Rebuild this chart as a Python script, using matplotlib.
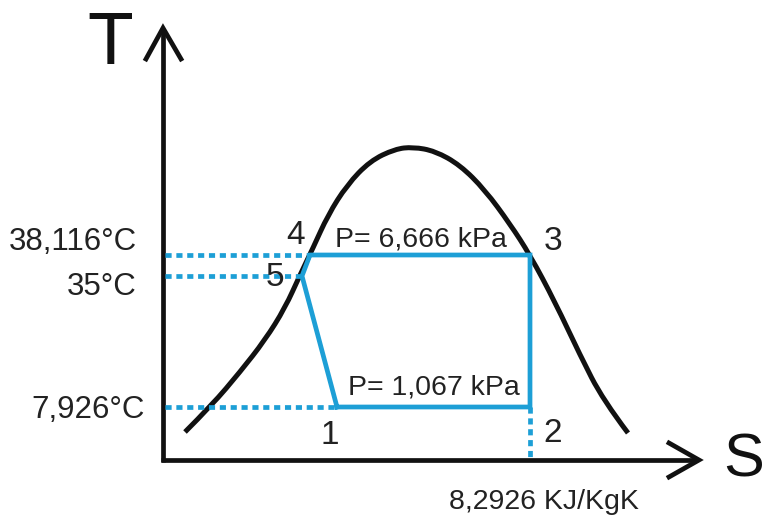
import matplotlib.pyplot as plt
import numpy as np
from matplotlib.path import Path
from matplotlib.patches import PathPatch

plt.rcParams['font.family'] = ['Liberation Sans', 'DejaVu Sans']

# saturation dome (s, T in picture units)
dome_s = [185, 212, 240, 265, 285, 300, 313, 328, 347, 370, 395, 413, 435, 460, 485, 510, 530, 555, 580, 603, 628]
dome_T = [432, 405, 372, 340, 308, 275, 248, 215, 185, 161, 149, 147, 151, 165, 190, 224, 255, 302, 355, 400, 433]

# cycle states 1..5
state_names = ['1', '2', '3', '4', '5']
state_s = [337, 530, 530, 310, 302]
state_T = [407, 407, 255, 255, 276]

temp_labels = ['38,116°C', '35°C', '7,926°C']
temp_levels = [255, 276, 407]
temp_ends = [310, 302, 337]

entropy_label = '8,2926 KJ/KgK'
entropy_value = 530
p_high = 'P= 6,666 kPa'
p_low = 'P= 1,067 kPa'

blue = '#1d9fd6'
ink = '#111111'
origin_x, origin_y = 163, 460
x_tip, y_tip = 699, 28

fig = plt.figure(figsize=(7.64, 5.22), dpi=100)
ax = fig.add_axes([0, 0, 1, 1])
ax.set_xlim(0, 764)
ax.set_ylim(522, 0)
ax.axis('off')

# axes with chevron arrowheads
ax.plot([origin_x, origin_x], [origin_y + 2, y_tip + 2], color=ink, lw=3.4, solid_capstyle='butt')
ax.plot([origin_x - 2, x_tip - 2], [origin_y, origin_y], color=ink, lw=3.4, solid_capstyle='butt')
ax.plot([origin_x - 17, origin_x, origin_x + 18], [y_tip + 31, y_tip, y_tip + 31],
        color=ink, lw=3.4, solid_joinstyle='miter')
ax.plot([x_tip - 30, x_tip, x_tip - 30], [origin_y - 17, origin_y, origin_y + 17],
        color=ink, lw=3.4, solid_joinstyle='miter')
ax.text(110, 44, 'T', fontsize=54, ha='center', va='center', color=ink)
ax.text(744, 461, 'S', fontsize=44, ha='center', va='center', color=ink)

# dome as a smooth quadratic b-spline through the read points
pts = np.column_stack([dome_s, dome_T]).astype(float)
verts = [pts[0]]
codes = [Path.MOVETO]
for i in range(1, len(pts) - 2):
    verts += [pts[i], (pts[i] + pts[i + 1]) / 2]
    codes += [Path.CURVE3, Path.CURVE3]
verts += [pts[-2], pts[-1]]
codes += [Path.CURVE3, Path.CURVE3]
ax.add_patch(PathPatch(Path(verts, codes), fill=False, lw=3.6, edgecolor=ink, capstyle='butt'))

# dotted guide lines
dots = (0, (1.3, 1.0))
for lvl, end in zip(temp_levels, temp_ends):
    ax.plot([origin_x + 2, end], [lvl, lvl], color=blue, lw=3.4, ls=dots, dash_capstyle='butt')
ax.plot([entropy_value, entropy_value], [state_T[1], origin_y], color=blue, lw=3.4,
        ls=dots, dash_capstyle='butt')

# cycle
cyc_s = state_s + [state_s[0]]
cyc_T = state_T + [state_T[0]]
ax.plot(cyc_s, cyc_T, color=blue, lw=3.4, solid_joinstyle='miter')

# text
tfs = 22.5
tc = '#222222'
ax.text(137, 242, temp_labels[0], fontsize=tfs, ha='right', va='center', color=tc)
ax.text(137, 287, temp_labels[1], fontsize=tfs, ha='right', va='center', color=tc)
ax.text(145, 410, temp_labels[2], fontsize=tfs, ha='right', va='center', color=tc)

num_pos = {'1': (330, 435), '2': (553, 433), '3': (553, 241), '4': (296, 236), '5': (275, 278)}
for n in state_names:
    x, y = num_pos[n]
    ax.text(x, y, n, fontsize=24, ha='center', va='center', color=tc)

ax.text(335, 239, p_high, fontsize=20.5, ha='left', va='center', color=tc)
ax.text(348, 388, p_low, fontsize=20.5, ha='left', va='center', color=tc)
ax.text(544, 502, entropy_label, fontsize=20.5, ha='center', va='center', color=tc)

fig.savefig('out.png', dpi=100)
